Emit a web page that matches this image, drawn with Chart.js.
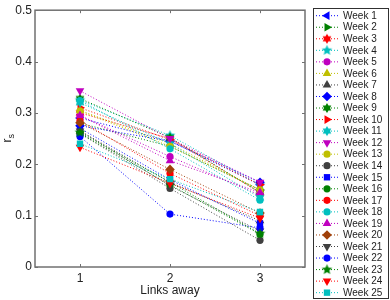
<!DOCTYPE html>
<html>
<head>
<meta charset="utf-8">
<script src="https://cdn.jsdelivr.net/npm/chart.js@4.4.1/dist/chart.umd.min.js"></script>
<style>
    html, body { margin: 0; padding: 0; background: #fff; }
    #wrap { position: relative; width: 390px; height: 300px; }
</style>
</head>
<body>
<div id="wrap"><canvas id="linksChart"></canvas></div>
<script>
// Chart data
const weeks = ['Week 1', 'Week 2', 'Week 3', 'Week 4', 'Week 5', 'Week 6', 'Week 7', 'Week 8', 'Week 9',
    'Week 10', 'Week 11', 'Week 12', 'Week 13', 'Week 14', 'Week 15', 'Week 16', 'Week 17', 'Week 18',
    'Week 19', 'Week 20', 'Week 21', 'Week 22', 'Week 23', 'Week 24', 'Week 25'];
const linksAway = [1, 2, 3];
const xTicks = [1, 2, 3];
const yTicks = [0, 0.1, 0.2, 0.3, 0.4, 0.5];

// r_s per week, one array per "links away" value
const rsOneLink = [0.290, 0.280, 0.300, 0.325, 0.295, 0.305, 0.265, 0.275, 0.328, 0.310, 0.320, 0.343, 0.304,
    0.260, 0.270, 0.260, 0.285, 0.324, 0.295, 0.281, 0.265, 0.254, 0.262, 0.233, 0.240];
const rsTwoLinks = [0.245, 0.235, 0.250, 0.256, 0.215, 0.240, 0.165, 0.245, 0.252, 0.248, 0.240, 0.250, 0.235,
    0.153, 0.170, 0.160, 0.182, 0.230, 0.207, 0.190, 0.158, 0.103, 0.165, 0.163, 0.171];
const rsThreeLinks = [0.160, 0.150, 0.145, 0.160, 0.140, 0.150, 0.090, 0.165, 0.145, 0.160, 0.135, 0.165, 0.150,
    0.052, 0.085, 0.064, 0.100, 0.130, 0.145, 0.105, 0.070, 0.076, 0.065, 0.095, 0.107];

// Styles (MATLAB-like colour cycle and markers)
const weekColors = ['#0000ff', '#008000', '#ff0000', '#00bfbf', '#bf00bf', '#bfbf00', '#404040',
    '#0000ff', '#008000', '#ff0000', '#00bfbf', '#bf00bf', '#bfbf00', '#404040',
    '#0000ff', '#008000', '#ff0000', '#00bfbf', '#bf00bf', '#a0400a', '#404040',
    '#0000ff', '#008000', '#ff0000', '#00bfbf'];
const weekMarkers = ['<', '>', 'h', 'p', 'o', '^', '^', 'd', 'h', '>', 'h', 'v', 'o',
    'o', 's', 'o', 'o', 'o', '^', 'd', 'v', 'o', 'p', 'v', 's'];

const FONT = '"Liberation Sans", Arial, Helvetica, sans-serif';
const AXIS_COLOR = '#707070';
const TEXT_COLOR = '#222222';

// Filled star image (pentagram / hexagram)
function makeStar(color, points, outer, innerRatio) {
    const size = Math.ceil(outer * 2 + 2);
    const c = document.createElement('canvas');
    c.width = size;
    c.height = size;
    const g = c.getContext('2d');
    const cx = size / 2, cy = size / 2;
    g.beginPath();
    for (let k = 0; k < points * 2; k++) {
        const r = k % 2 === 0 ? outer : outer * innerRatio;
        const a = -Math.PI / 2 + k * Math.PI / points;
        const px = cx + r * Math.cos(a);
        const py = cy + r * Math.sin(a);
        if (k === 0) g.moveTo(px, py); else g.lineTo(px, py);
    }
    g.closePath();
    g.fillStyle = color;
    g.fill();
    return c;
}

function markerStyle(marker, color) {
    switch (marker) {
        case 'o': return { pointStyle: 'circle', rotation: 0, radius: 3.6 };
        case '^': return { pointStyle: 'triangle', rotation: 0, radius: 5 };
        case 'v': return { pointStyle: 'triangle', rotation: 180, radius: 5 };
        case '<': return { pointStyle: 'triangle', rotation: -90, radius: 5 };
        case '>': return { pointStyle: 'triangle', rotation: 90, radius: 5 };
        case 's': return { pointStyle: 'rect', rotation: 0, radius: 4.5 };
        case 'd': return { pointStyle: 'rectRot', rotation: 0, radius: 4.8 };
        case 'p': return { pointStyle: makeStar(color, 5, 5.5, 0.45), rotation: 0, radius: 5 };
        case 'h': return { pointStyle: makeStar(color, 6, 5, 0.6), rotation: 0, radius: 5 };
        default: return { pointStyle: 'circle', rotation: 0, radius: 3.5 };
    }
}

const weekStyles = weeks.map((w, i) => markerStyle(weekMarkers[i], weekColors[i]));
const seriesByLink = [rsOneLink, rsTwoLinks, rsThreeLinks];

const datasets = weeks.map((week, i) => ({
    label: week,
    data: linksAway.map((x, j) => ({ x: x, y: seriesByLink[j][i] })),
    borderColor: weekColors[i],
    backgroundColor: weekColors[i],
    borderWidth: 1,
    borderDash: [1, 2],
    pointStyle: weekStyles[i].pointStyle,
    pointRotation: weekStyles[i].rotation,
    pointRadius: weekStyles[i].radius,
    pointBorderWidth: 0,
    pointBackgroundColor: weekColors[i],
    tension: 0,
    fill: false,
    order: weeks.length - i
}));

// Axes box, inward ticks, y title and legend
const matlabFrame = {
    id: 'matlabFrame',
    afterDraw(chart) {
        const ctx = chart.ctx;
        const area = chart.chartArea;
        const xs = chart.scales.x;
        const ys = chart.scales.y;
        ctx.save();

        // box
        ctx.strokeStyle = AXIS_COLOR;
        ctx.lineWidth = 1.5;
        ctx.setLineDash([]);
        ctx.strokeRect(area.left, area.top, area.right - area.left, area.bottom - area.top);

        // inward ticks
        ctx.lineWidth = 1;
        ctx.beginPath();
        xTicks.forEach(v => {
            const px = Math.round(xs.getPixelForValue(v)) + 0.5;
            ctx.moveTo(px, area.bottom); ctx.lineTo(px, area.bottom - 3);
            ctx.moveTo(px, area.top); ctx.lineTo(px, area.top + 3);
        });
        yTicks.forEach(v => {
            const py = Math.round(ys.getPixelForValue(v)) + 0.5;
            ctx.moveTo(area.left, py); ctx.lineTo(area.left + 3, py);
            ctx.moveTo(area.right, py); ctx.lineTo(area.right - 3, py);
        });
        ctx.stroke();

        // y title: r with subscript s
        ctx.fillStyle = TEXT_COLOR;
        ctx.translate(11, (area.top + area.bottom) / 2);
        ctx.rotate(-Math.PI / 2);
        ctx.textBaseline = 'alphabetic';
        ctx.textAlign = 'left';
        ctx.font = '12px ' + FONT;
        ctx.fillText('r', -4, 0);
        ctx.font = '9px ' + FONT;
        ctx.fillText('s', 0, 3);
        ctx.setTransform(1, 0, 0, 1, 0, 0);

        // legend
        const lx = area.right + 8;
        const ly = 8;
        const lw = 75;
        const lh = 290;
        const step = 11.54;
        ctx.fillStyle = '#ffffff';
        ctx.fillRect(lx, ly, lw, lh);
        ctx.strokeStyle = '#303030';
        ctx.lineWidth = 1;
        ctx.strokeRect(lx + 0.5, ly + 0.5, lw, lh);
        ctx.font = '10px ' + FONT;
        ctx.textBaseline = 'middle';
        ctx.textAlign = 'left';
        weeks.forEach((week, i) => {
            const cy = ly + 7.7 + i * step;
            ctx.strokeStyle = weekColors[i];
            ctx.lineWidth = 1;
            ctx.setLineDash([1, 2]);
            ctx.beginPath();
            ctx.moveTo(lx + 3, cy);
            ctx.lineTo(lx + 27, cy);
            ctx.stroke();
            ctx.setLineDash([]);
            ctx.fillStyle = weekColors[i];
            Chart.helpers.drawPoint(ctx, {
                pointStyle: weekStyles[i].pointStyle,
                rotation: weekStyles[i].rotation,
                radius: weekStyles[i].radius,
                borderWidth: 0
            }, lx + 14, cy);
            ctx.fillStyle = TEXT_COLOR;
            ctx.fillText(week, lx + 30, cy + 0.5);
        });
        ctx.restore();
    }
};

function initializeLinksChart() {
    const canvas = document.getElementById('linksChart');
    const ctx = canvas.getContext('2d');
    return new Chart(ctx, {
        type: 'line',
        data: { datasets: datasets },
        options: {
            responsive: true,
            maintainAspectRatio: false,
            animation: false,
            layout: { padding: { left: 0, right: 85, top: 9, bottom: 0 } },
            plugins: {
                legend: { display: false },
                tooltip: { enabled: false }
            },
            scales: {
                x: {
                    type: 'linear',
                    min: 0.5,
                    max: 3.5,
                    afterBuildTicks: scale => { scale.ticks = xTicks.map(v => ({ value: v })); },
                    afterFit: scale => { scale.height = 33; },
                    grid: { display: false, drawTicks: false },
                    border: { display: false },
                    ticks: {
                        padding: 4,
                        color: TEXT_COLOR,
                        font: { family: FONT, size: 12 },
                        callback: v => String(v)
                    },
                    title: {
                        display: true,
                        text: 'Links away',
                        color: TEXT_COLOR,
                        font: { family: FONT, size: 12 },
                        padding: { top: 0, bottom: 2 }
                    }
                },
                y: {
                    min: 0,
                    max: 0.5,
                    afterBuildTicks: scale => { scale.ticks = yTicks.map(v => ({ value: v })); },
                    afterFit: scale => { scale.width = 35; },
                    grid: { display: false, drawTicks: false },
                    border: { display: false },
                    ticks: {
                        padding: 3,
                        color: TEXT_COLOR,
                        font: { family: FONT, size: 12 },
                        callback: v => String(Math.round(v * 10) / 10)
                    }
                }
            }
        },
        plugins: [matlabFrame]
    });
}

document.addEventListener('DOMContentLoaded', function () {
    initializeLinksChart();
});
</script>
</body>
</html>
